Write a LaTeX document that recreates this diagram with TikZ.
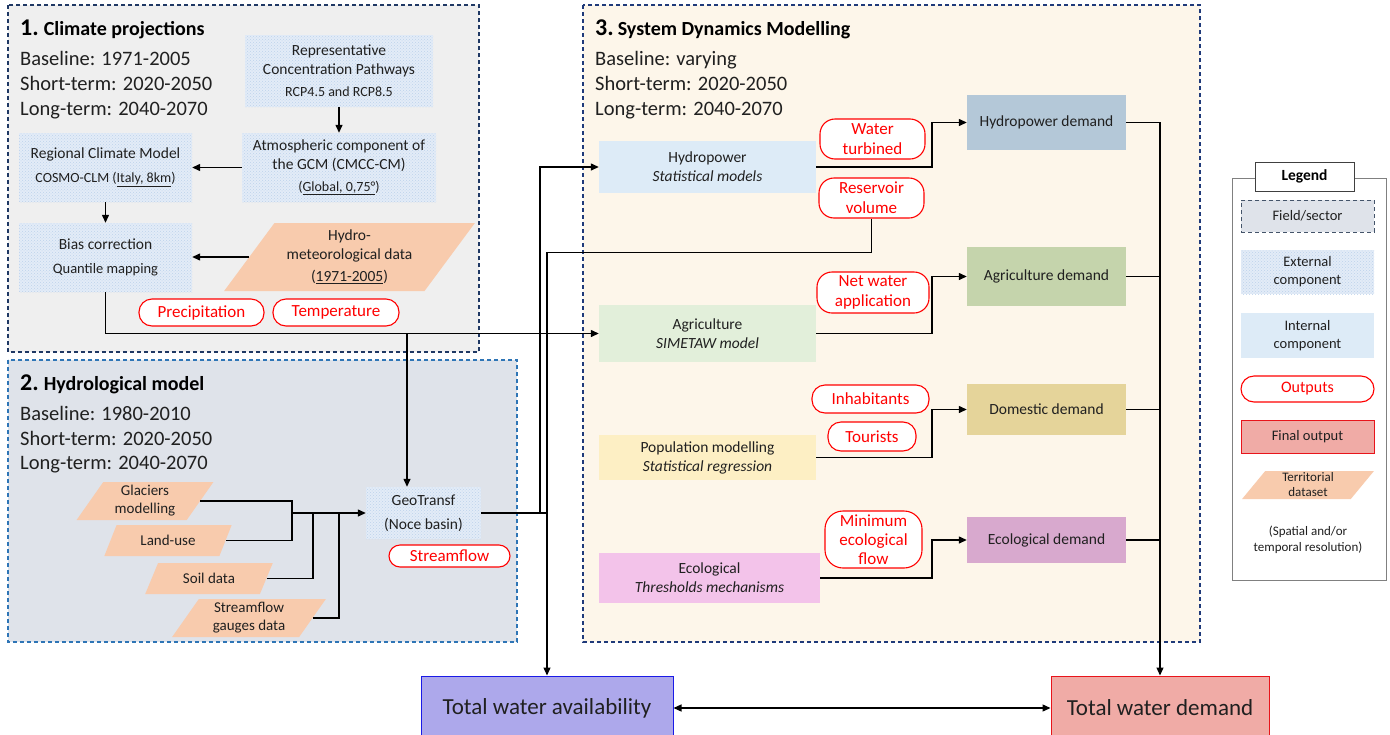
\documentclass[tikz,border=0pt]{standalone}
\usepackage{fontspec}
\setmainfont{Carlito}
\usetikzlibrary{arrows.meta,shapes.geometric,patterns}
\newcommand{\setfs}[2]{\fontsize{#1}{#2}\selectfont}

\definecolor{txt}{HTML}{202020}
\definecolor{pOneFill}{HTML}{EFEFEF}
\definecolor{pOneDraw}{HTML}{1F3864}
\definecolor{pTwoFill}{HTML}{DFE3EA}
\definecolor{pTwoDraw}{HTML}{2E75B6}
\definecolor{pThreeFill}{HTML}{FDF6EA}
\definecolor{pThreeDraw}{HTML}{1F3A7A}
\definecolor{fieldDraw}{HTML}{44546A}
\definecolor{extbg}{HTML}{E3ECF7}
\definecolor{extdot}{HTML}{BCD2EC}
\definecolor{hydfill}{HTML}{DDEBF7}
\definecolor{agrfill}{HTML}{E2EFDA}
\definecolor{popfill}{HTML}{FDEFC4}
\definecolor{ecofill}{HTML}{F3C3EA}
\definecolor{hdfill}{HTML}{B4C8D8}
\definecolor{adfill}{HTML}{C5D4AC}
\definecolor{ddfill}{HTML}{E5D49A}
\definecolor{edfill}{HTML}{D8A9CE}
\definecolor{terr}{HTML}{F8CBAD}
\definecolor{availfill}{HTML}{ADA8EB}
\definecolor{availdraw}{HTML}{1A1AE6}
\definecolor{demfill}{HTML}{F0ABA6}
\definecolor{demdraw}{HTML}{E8141B}
\definecolor{leggray}{HTML}{808080}
\definecolor{outred}{HTML}{FF0000}

\begin{document}
\begin{tikzpicture}[x=1pt,y=-1pt,
  panel/.style={line width=1.1pt, dash pattern=on 4pt off 3pt},
  box/.style={rectangle, inner sep=0pt, align=center, text=txt, font=\setfs{15.5}{19}},
  ext/.style={box, fill=extbg, postaction={pattern=crosshatch dots, pattern color=extdot}},
  outp/.style={rectangle, rounded corners=13pt, draw=outred, line width=1.1pt, fill=white,
    text=outred, inner sep=0pt, align=center, font=\setfs{17}{20}},
  pgram/.style={trapezium, trapezium stretches=true, trapezium left angle=58,
    trapezium right angle=122, fill=terr, inner sep=0pt, align=center, text=txt,
    font=\setfs{15}{18}},
  period/.style={anchor=base west, inner sep=0pt, text=txt, font=\setfs{20.5}{24}},
  header/.style={anchor=base west, inner sep=0pt, text=black, font=\bfseries\setfs{20}{24}},
  conn/.style={line width=1.3pt, draw=black},
  arr/.style={conn, -{Triangle[length=8pt,width=7pt]}},
  total/.style={box, line width=1pt, minimum height=64, font=\setfs{23}{26}}
]
\useasboundingbox (0,0) rectangle (1390,734);
\fill[white] (0,0) rectangle (1390,734);

% ---------- field backgrounds ----------
\draw[panel, draw=pOneDraw, fill=pOneFill] (8,5) rectangle (479,352);
\draw[panel, draw=pTwoDraw, fill=pTwoFill] (8,360) rectangle (517,642);
\draw[panel, draw=pThreeDraw, fill=pThreeFill] (583,5) rectangle (1200,642);

% ---------- 1. Climate projections ----------
\node[header] (h1) at (20,35) {{\setfs{24}{24}1.}\hspace{5pt}Climate projections};
\node[period] (h1a) at (20,65) {Baseline: 1971-2005};
\node[period] (h1b) at (20,90) {Short-term: 2020-2050};
\node[period] (h1c) at (20,115) {Long-term: 2040-2070};

\node[ext, minimum width=188, minimum height=72] (rcp) at (339,71)
  {Representative\\Concentration Pathways\\[3pt]{\setfs{14}{17}RCP4.5 and RCP8.5}};
\node[ext, minimum width=194, minimum height=69] (atm) at (339,167.5)
  {Atmospheric component of\\the GCM (CMCC-CM)\\[3pt]{\setfs{14}{17}(\underline{Global, 0,75°})}};
\node[ext, minimum width=173, minimum height=69] (rcm) at (105.5,167.5)
  {Regional Climate Model\\[5pt]{\setfs{14}{17}COSMO-CLM (\underline{Italy, 8km})}};
\node[ext, minimum width=173, minimum height=69] (bias) at (105.5,257.5)
  {Bias correction\\[5pt]{\setfs{14.5}{17}Quantile mapping}};
\node[pgram, trapezium left angle=52, trapezium right angle=128, font=\setfs{15.5}{19},
  minimum width=251, minimum height=68] (hmd) at (349.5,257)
  {Hydro-\\meteorological data\\[3pt](\underline{1971-2005})};
\node[outp, minimum width=125, minimum height=27] (prec) at (201.5,312.5) {Precipitation};
\node[outp, minimum width=126, minimum height=27] (temp) at (336,312.5) {Temperature};

% ---------- 2. Hydrological model ----------
\node[header] (h2) at (20,390) {{\setfs{24}{24}2.}\hspace{5pt}Hydrological model};
\node[period] (h2a) at (20,420) {Baseline: 1980-2010};
\node[period] (h2b) at (20,445) {Short-term: 2020-2050};
\node[period] (h2c) at (20,469) {Long-term: 2040-2070};

\node[pgram, minimum width=138, minimum height=38] (glac) at (145,501) {Glaciers\\modelling};
\node[pgram, minimum width=128, minimum height=31] (land) at (168,540.5) {Land-use};
\node[pgram, minimum width=128, minimum height=31] (soil) at (209,578.5) {Soil data};
\node[pgram, minimum width=154, minimum height=38] (gauge) at (249,618) {Streamflow\\gauges data};
\node[ext, minimum width=115, minimum height=52] (geo) at (423.5,513) {GeoTransf\\[5pt](Noce basin)};
\node[outp, rounded corners=11pt, minimum width=121, minimum height=22] (sflow) at (449.5,556) {Streamflow};

% ---------- 3. System Dynamics Modelling ----------
\node[header] (h3) at (595,35) {{\setfs{24}{24}3.}\hspace{4pt}System Dynamics Modelling};
\node[period] (h3a) at (595,65) {Baseline: varying};
\node[period] (h3b) at (595,90) {Short-term: 2020-2050};
\node[period] (h3c) at (595,115) {Long-term: 2040-2070};

\node[box, fill=hydfill, minimum width=217, minimum height=52] (hydro) at (707.5,167)
  {Hydropower\\\textit{Statistical models}};
\node[box, fill=agrfill, minimum width=217, minimum height=57] (agri) at (707.5,333.5)
  {Agriculture\\\textit{SIMETAW model}};
\node[box, fill=popfill, minimum width=217, minimum height=45] (pop) at (707.5,457.5)
  {Population modelling\\\textit{Statistical regression}};
\node[box, fill=ecofill, minimum width=221, minimum height=50] (eco) at (709.5,578)
  {Ecological\\\textit{Thresholds mechanisms}};

\node[box, fill=hdfill, minimum width=159, minimum height=55] (hdem) at (1046.5,122.5) {Hydropower demand};
\node[box, fill=adfill, minimum width=159, minimum height=59] (adem) at (1046.5,276.5) {Agriculture demand};
\node[box, fill=ddfill, minimum width=159, minimum height=51] (ddem) at (1046.5,409.5) {Domestic demand};
\node[box, fill=edfill, minimum width=159, minimum height=46] (edem) at (1046.5,540) {Ecological demand};

\node[outp, rounded corners=15pt, minimum width=105, minimum height=40] (turb) at (872.5,139) {Water\\turbined};
\node[outp, rounded corners=15pt, minimum width=105, minimum height=40] (resv) at (871.5,198) {Reservoir\\volume};
\node[outp, rounded corners=15pt, minimum width=112, minimum height=41] (netw) at (873,292.5) {Net water\\application};
\node[outp, minimum width=117, minimum height=28] (inh) at (870.5,399) {Inhabitants};
\node[outp, minimum width=88, minimum height=29] (tour) at (872,436.5) {Tourists};
\node[outp, rounded corners=18pt, minimum width=97, minimum height=57, font=\setfs{17}{19}] (minf) at (873.5,539.5)
  {Minimum\\ecological\\flow};

% ---------- totals ----------
\node[total, fill=availfill, draw=availdraw, minimum width=252] (avail) at (547,708) {Total water availability};
\node[total, fill=demfill, draw=demdraw, minimum width=218] (tdem) at (1160,708) {Total water demand};

% ---------- connectors: climate chain ----------
\draw[arr] (rcp.south) -- (atm.north);
\draw[arr] (atm.west) -- (rcm.east);
\draw[arr] (rcm.south) -- (bias.north);
\draw[arr] (hmd.west) -- (hmd.west -| bias.east);
\draw[arr] (bias.south) |- (agri.west);
\coordinate (br) at (407,333.5);
\draw[arr] (br) -- (br |- geo.north);

% ---------- connectors: hydrological inputs ----------
\coordinate (m1) at (292,513);
\coordinate (m2) at (313,513);
\coordinate (m3) at (339,513);
\draw[conn] (glac.east) -| (land.east -| m1) -- (land.east);
\draw[conn] (soil.east) -| (m2);
\draw[conn] (gauge.east) -| (m3);
\draw[arr] (m1) -- (m1 -| geo.west);

% ---------- connectors: availability ----------
\coordinate (g1) at (540,513);
\coordinate (g2) at (547,513);
\draw[conn] (geo.east) -- (g2);
\draw[arr] (g1) |- (hydro.west);
\draw[arr] (resv.south) -- ++(0,34) -| (avail.north);

% ---------- connectors: sector demands ----------
\coordinate (b1) at (932,0);
\draw[arr] (hydro.east) -- (hydro.east -| b1) |- (hdem.west);
\draw[arr] (agri.east) -- (agri.east -| b1) |- (adem.west);
\draw[arr] (pop.east) -- (pop.east -| b1) |- (ddem.west);
\draw[arr] (eco.east) -- (eco.east -| b1) |- (edem.west);
\draw[arr] (hdem.east) -| (tdem.north);
\draw[conn] (adem.east) -- (adem.east -| tdem.north);
\draw[conn] (ddem.east) -- (ddem.east -| tdem.north);
\draw[conn] (edem.east) -- (edem.east -| tdem.north);
\draw[conn, {Triangle[length=8pt,width=7pt]}-{Triangle[length=8pt,width=7pt]}] (avail.east) -- (tdem.west);

% ---------- legend ----------
\draw[draw=leggray, line width=1pt, fill=white] (1232,178) rectangle (1386,580);
\node[rectangle, draw=black!75, line width=1pt, fill=white, minimum width=99, minimum height=29,
  font=\bfseries\setfs{15.5}{18}] (legt) at (1304.5,176.5) {Legend};
\node[box, draw=fieldDraw, dash pattern=on 4pt off 3pt, line width=1pt, fill=pTwoFill,
  minimum width=133, minimum height=32, font=\setfs{14.5}{18}] (lfield) at (1307.5,216) {Field/sector};
\node[ext, minimum width=133, minimum height=44, font=\setfs{14.5}{18}] (lext) at (1307.5,272) {External\\component};
\node[box, fill=hydfill, minimum width=133, minimum height=45, font=\setfs{14.5}{18}] (lint) at (1307.5,335.5) {Internal\\component};
\node[outp, minimum width=133, minimum height=26, font=\setfs{16}{18}] (lout) at (1307.5,389) {Outputs};
\node[box, fill=demfill, draw=demdraw, line width=1pt, minimum width=133, minimum height=33,
  font=\setfs{14.5}{18}] (lfin) at (1307.5,436.5) {Final output};
\node[pgram, trapezium left angle=60, trapezium right angle=120, minimum width=132, minimum height=28,
  font=\setfs{13}{15}] (lterr) at (1308,485) {Territorial\\dataset};
\node[align=center, text=txt, inner sep=0pt, font=\setfs{13}{16}] (lres) at (1308,540)
  {(Spatial and/or\\temporal resolution)};
\end{tikzpicture}
\end{document}
